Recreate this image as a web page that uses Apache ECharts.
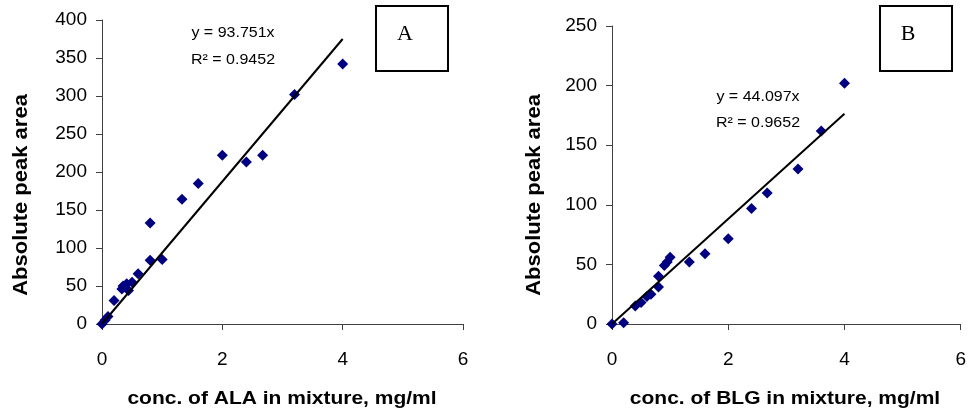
<!DOCTYPE html>
<html>
<head>
<meta charset="utf-8">
<script src="https://cdn.jsdelivr.net/npm/echarts@6/dist/echarts.min.js"></script>
<style>
  html, body { margin: 0; padding: 0; background: #fff; }
  #chart { width: 969px; height: 412px; }
</style>
</head>
<body>
<div id="chart"></div>
<script>
// 图 A：ALA
const alaConc = [0, 0.05, 0.1, 0.2, 0.33, 0.35, 0.41, 0.44, 0.5, 0.6, 0.8, 0.8, 1.0, 1.33, 1.6, 2.0, 2.4, 2.67, 3.2, 4.0]
const alaArea = [0, 5, 10, 31, 46, 50, 53, 44, 55, 66, 84, 133, 85, 164, 185, 222, 213, 222, 302, 342]

// 图 B：BLG
const blgConc = [0, 0.2, 0.4, 0.5, 0.6, 0.67, 0.8, 0.8, 0.9, 0.95, 1.0, 1.33, 1.6, 2.0, 2.4, 2.67, 3.2, 3.6, 4.0]
const blgArea = [0, 1, 15, 18, 23, 25, 31, 40, 49, 52, 56, 52, 59, 71.5, 97, 110, 130, 162, 202]

// 趋势线端点
const trendX = [0, 4]
const trendA = [0, 375.0]
const trendB = [0, 176.4]

const xTicks = [0, 2, 4, 6]

const font = 'Arial, "Liberation Sans", sans-serif'

const pairs = (xs, ys) => xs.map((x, i) => [x, ys[i]])

const axisStyle = {
  axisLine: { show: true, onZero: false, lineStyle: { color: '#404040', width: 1 } },
  axisTick: { show: true, inside: false, length: 6, lineStyle: { color: '#404040' } },
  splitLine: { show: false },
}

const chart = echarts.init(document.getElementById('chart'))

// 文字工具
const label = (x, y, text, fontStr, extra = {}) => ({
  type: 'text', x, y, ...extra,
  style: { text, font: fontStr, fill: '#000', align: 'center', verticalAlign: 'middle' },
})

const option = {
  animation: false,
  backgroundColor: '#fff',
  grid: [
    { left: 102, top: 20, width: 361, height: 304 },
    { left: 612, top: 26, width: 349, height: 298 },
  ],
  xAxis: [0, 1].map(i => ({
    gridIndex: i,
    type: 'value',
    min: xTicks[0],
    max: xTicks[xTicks.length - 1],
    interval: 2,
    ...axisStyle,
    axisLabel: { fontFamily: font, fontSize: 19, color: '#000', margin: 26 },
  })),
  yAxis: [
    {
      gridIndex: 0, type: 'value', min: 0, max: 400, interval: 50,
      ...axisStyle,
      axisLabel: { fontFamily: font, fontSize: 19, color: '#000', margin: 15 },
    },
    {
      gridIndex: 1, type: 'value', min: 0, max: 250, interval: 50,
      ...axisStyle,
      axisLabel: { fontFamily: font, fontSize: 19, color: '#000', margin: 15 },
    },
  ],
  series: [
    {
      type: 'scatter', xAxisIndex: 0, yAxisIndex: 0,
      data: pairs(alaConc, alaArea),
      symbol: 'diamond', symbolSize: 11,
      itemStyle: { color: '#000080', opacity: 1 },
      z: 2,
    },
    {
      type: 'line', xAxisIndex: 0, yAxisIndex: 0,
      data: pairs(trendX, trendA),
      showSymbol: false,
      lineStyle: { color: '#000', width: 2 },
      z: 3,
    },
    {
      type: 'scatter', xAxisIndex: 1, yAxisIndex: 1,
      data: pairs(blgConc, blgArea),
      symbol: 'diamond', symbolSize: 11,
      itemStyle: { color: '#000080', opacity: 1 },
      z: 2,
    },
    {
      type: 'line', xAxisIndex: 1, yAxisIndex: 1,
      data: pairs(trendX, trendB),
      showSymbol: false,
      lineStyle: { color: '#000', width: 2 },
      z: 3,
    },
  ],
  graphic: [
    // 纵轴标题
    label(22, 195, 'Absolute peak area', 'bold 22px ' + font, { rotation: Math.PI / 2, scaleY: 0.88 }),
    label(535, 195, 'Absolute peak area', 'bold 22px ' + font, { rotation: Math.PI / 2, scaleY: 0.88 }),
    // 横轴标题
    label(282, 399, 'conc. of ALA in mixture, mg/ml', 'bold 21px ' + font, { scaleY: 0.86 }),
    label(785, 399, 'conc. of BLG in mixture, mg/ml', 'bold 21px ' + font, { scaleY: 0.86 }),
    // 回归方程
    label(233, 33, 'y = 93.751x', '16px ' + font, { scaleY: 0.92 }),
    label(233, 60, 'R² = 0.9452', '16px ' + font, { scaleY: 0.92 }),
    label(758, 97, 'y = 44.097x', '16px ' + font, { scaleY: 0.92 }),
    label(758, 123, 'R² = 0.9652', '16px ' + font, { scaleY: 0.92 }),
    // 面板标记框
    {
      type: 'rect', shape: { x: 376, y: 6, width: 72, height: 65 },
      style: { fill: '#fff', stroke: '#000', lineWidth: 2 },
    },
    label(405, 34, 'A', '22px "Liberation Serif", "Times New Roman", serif'),
    {
      type: 'rect', shape: { x: 880, y: 6, width: 72, height: 65 },
      style: { fill: '#fff', stroke: '#000', lineWidth: 2 },
    },
    label(908, 34, 'B', '22px "Liberation Serif", "Times New Roman", serif'),
  ],
}

chart.setOption(option)
</script>
</body>
</html>
